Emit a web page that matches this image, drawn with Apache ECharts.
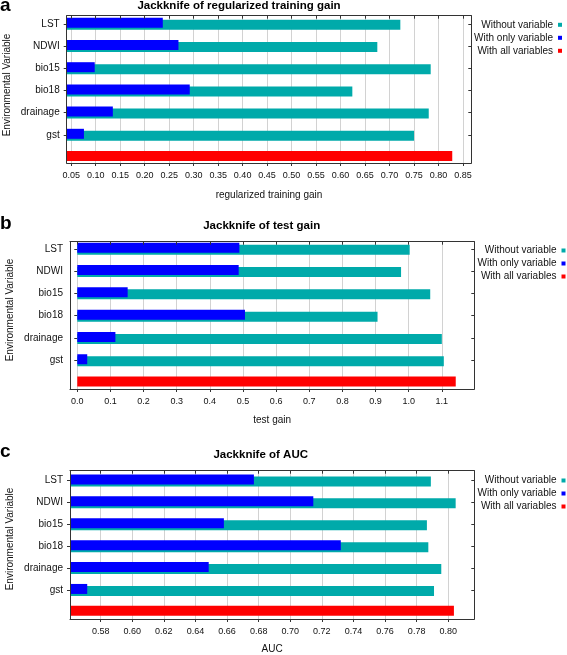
<!DOCTYPE html>
<html>
<head>
<meta charset="utf-8">
<script src="https://cdn.jsdelivr.net/npm/echarts@6/dist/echarts.min.js"></script>
<style>
html,body{margin:0;padding:0;background:#fff;}
#chart{width:567px;height:655px;}
</style>
</head>
<body>
<div id="chart"></div>
<script>
// ---------- data ----------
const categories = ['LST', 'NDWI', 'bio15', 'bio18', 'drainage', 'gst'];
const seriesNames = ['Without variable', 'With only variable', 'With all variables'];

// a) regularized training gain
const aWithout = [0.722, 0.675, 0.784, 0.624, 0.780, 0.750];
const aOnly    = [0.237, 0.269, 0.098, 0.292, 0.135, 0.076];
const aAll     = 0.828;
const aTicks   = [0.05, 0.10, 0.15, 0.20, 0.25, 0.30, 0.35, 0.40, 0.45, 0.50, 0.55, 0.60, 0.65, 0.70, 0.75, 0.80, 0.85];

// b) test gain
const bWithout = [1.003, 0.977, 1.065, 0.906, 1.100, 1.106];
const bOnly    = [0.489, 0.487, 0.152, 0.506, 0.115, 0.030];
const bAll     = 1.142;
const bTicks   = [0.0, 0.1, 0.2, 0.3, 0.4, 0.5, 0.6, 0.7, 0.8, 0.9, 1.0, 1.1];

// c) AUC
const cWithout = [0.789, 0.8047, 0.7865, 0.7874, 0.7956, 0.791];
const cOnly    = [0.677, 0.7146, 0.658, 0.732, 0.6484, 0.5715];
const cAll     = 0.8036;
const cTicks   = [0.58, 0.60, 0.62, 0.64, 0.66, 0.68, 0.70, 0.72, 0.74, 0.76, 0.78, 0.80];

// ---------- layout / style ----------
const FONT = 'Liberation Sans, Arial, sans-serif';
const TEAL = '#00aaaa', BLUE = '#0000ff', RED = '#ff0000';
const AXIS = '#333333', TXT = '#111111';

const panels = [
  {letter:'a', without:aWithout, only:aOnly, all:aAll, ticks:aTicks, dec:2, min:0.0408, max:0.8669,
   left:66.7, width:404.6, frameTop:15.7, frameBottom:163, bandTop:12.7, bandHeight:155.4,
   title:'Jackknife of regularized training gain', titleX:239, titleY:6.3,
   xName:'regularized training gain', nameGap:26, letterY:5.4, yNameX:7, yNameY:85,
   legendTop:18.8, legendRight:5},
  {letter:'b', without:bWithout, only:bOnly, all:bAll, ticks:bTicks, dec:1, min:-0.022, max:1.198,
   left:70, width:404.3, frameTop:241.7, frameBottom:389, bandTop:237.6, bandHeight:156.1,
   title:'Jackknife of test gain', titleX:261.7, titleY:225.6,
   xName:'test gain', nameGap:25.5, letterY:224, yNameX:10, yNameY:310,
   legendTop:244.5, legendRight:1.5},
  {letter:'c', without:cWithout, only:cOnly, all:cAll, ticks:cTicks, dec:2, min:0.5606, max:0.8165,
   left:70, width:404.3, frameTop:470.7, frameBottom:619, bandTop:469.5, bandHeight:153.3,
   title:'Jackknife of AUC', titleX:260.7, titleY:454.8,
   xName:'AUC', nameGap:24.3, letterY:451.5, yNameX:10, yNameY:539,
   legendTop:474.5, legendRight:1.5}
];

const grid = [], xAxis = [], yAxis = [], series = [], legend = [], graphic = [];
const cats = categories.concat(['']);
const tickFilter = function (idx, val) { return val !== ''; };

panels.forEach(function (p, i) {
  const gBar = grid.length;
  grid.push({left:p.left, top:p.bandTop, width:p.width, height:p.bandHeight, outerBoundsMode:'none', containLabel:false});
  const gFrame = grid.length;
  grid.push({left:p.left, top:p.frameTop, width:p.width, height:p.frameBottom - p.frameTop, outerBoundsMode:'none', containLabel:false});

  // bar grid axes
  const xBar = xAxis.length;
  xAxis.push({gridIndex:gBar, type:'value', min:p.min, max:p.max, show:false});
  const yBar = yAxis.length;
  yAxis.push({gridIndex:gBar, type:'category', data:cats, inverse:true, position:'left',
    axisLine:{show:false},
    axisTick:{show:true, alignWithLabel:true, length:3, interval:tickFilter, lineStyle:{color:AXIS}},
    axisLabel:{fontSize:10, color:TXT, margin:7, fontFamily:FONT},
    splitLine:{show:false}});
  yAxis.push({gridIndex:gBar, type:'category', data:cats, inverse:true, position:'right',
    axisLine:{show:false},
    axisTick:{show:true, inside:true, alignWithLabel:true, length:3, interval:tickFilter, lineStyle:{color:AXIS}},
    axisLabel:{show:false}, splitLine:{show:false}});

  // frame grid axes
  xAxis.push({gridIndex:gFrame, type:'value', min:p.min, max:p.max, position:'bottom', z:0,
    axisLine:{show:true, onZero:false, lineStyle:{color:AXIS, width:1}},
    axisTick:{show:true, length:3, customValues:p.ticks, lineStyle:{color:AXIS}},
    axisLabel:{show:true, customValues:p.ticks, fontSize:9, color:TXT, margin:7, lineHeight:12, fontFamily:FONT,
      formatter:function (v) { return Number(v).toFixed(p.dec); }},
    splitLine:{show:true, lineStyle:{color:'#d2d2d2', width:1}},
    name:p.xName, nameLocation:'middle', nameGap:p.nameGap,
    nameTextStyle:{fontSize:10, color:TXT, lineHeight:12, fontFamily:FONT}});
  xAxis.push({gridIndex:gFrame, type:'value', min:p.min, max:p.max, position:'top', z:5,
    axisLine:{show:true, onZero:false, lineStyle:{color:AXIS, width:1}},
    axisTick:{show:true, inside:true, length:3, customValues:p.ticks, lineStyle:{color:AXIS}},
    axisLabel:{show:false}, splitLine:{show:false}});
  yAxis.push({gridIndex:gFrame, type:'value', min:0, max:1, position:'left', z:5,
    axisLine:{show:true, onZero:false, lineStyle:{color:AXIS, width:1}},
    axisTick:{show:false}, axisLabel:{show:false}, splitLine:{show:false}});
  yAxis.push({gridIndex:gFrame, type:'value', min:0, max:1, position:'right', z:5,
    axisLine:{show:true, onZero:false, lineStyle:{color:AXIS, width:1}},
    axisTick:{show:false}, axisLabel:{show:false}, splitLine:{show:false}});

  const blank = p.only.map(function () { return '-'; });
  series.push({type:'bar', name:seriesNames[1], xAxisIndex:xBar, yAxisIndex:yBar,
    data:p.only.concat(['-']), stack:'s' + i, barWidth:10, barGap:'-80%', z:3, clip:true,
    itemStyle:{color:BLUE}, silent:true});
  series.push({type:'bar', name:seriesNames[2], xAxisIndex:xBar, yAxisIndex:yBar,
    data:blank.concat([p.all]), stack:'s' + i, barWidth:10, barGap:'-80%', z:3, clip:true,
    itemStyle:{color:RED}, silent:true});
  series.push({type:'bar', name:seriesNames[0], xAxisIndex:xBar, yAxisIndex:yBar,
    data:p.without.concat(['-']), barWidth:10, barGap:'-80%', z:2, clip:true,
    itemStyle:{color:TEAL}, silent:true});

  legend.push({orient:'vertical', align:'right', right:p.legendRight, top:p.legendTop,
    padding:0, itemWidth:4, itemHeight:4, itemGap:1, icon:'rect', selectedMode:false,
    data:seriesNames, textStyle:{fontSize:10, lineHeight:12, color:TXT, fontFamily:FONT}});

  graphic.push({type:'text', x:0, y:p.letterY, silent:true,
    style:{text:p.letter, fontSize:19, fontWeight:'bold', fontFamily:FONT, fill:'#000', align:'left', verticalAlign:'middle'}});
  graphic.push({type:'text', x:p.titleX, y:p.titleY, silent:true,
    style:{text:p.title, fontSize:11.5, fontWeight:'bold', fontFamily:FONT, fill:'#000', align:'center', verticalAlign:'middle'}});
  graphic.push({type:'text', x:p.yNameX, y:p.yNameY, rotation:Math.PI / 2, silent:true,
    style:{text:'Environmental Variable', fontSize:10, fontFamily:FONT, fill:TXT, align:'center', verticalAlign:'middle'}});
});

const chart = echarts.init(document.getElementById('chart'), null, {renderer:'canvas'});
chart.setOption({
  animation:false,
  backgroundColor:'#ffffff',
  textStyle:{fontFamily:FONT},
  grid:grid, xAxis:xAxis, yAxis:yAxis, series:series, legend:legend, graphic:graphic,
  tooltip:{show:false}
});
</script>
</body>
</html>
